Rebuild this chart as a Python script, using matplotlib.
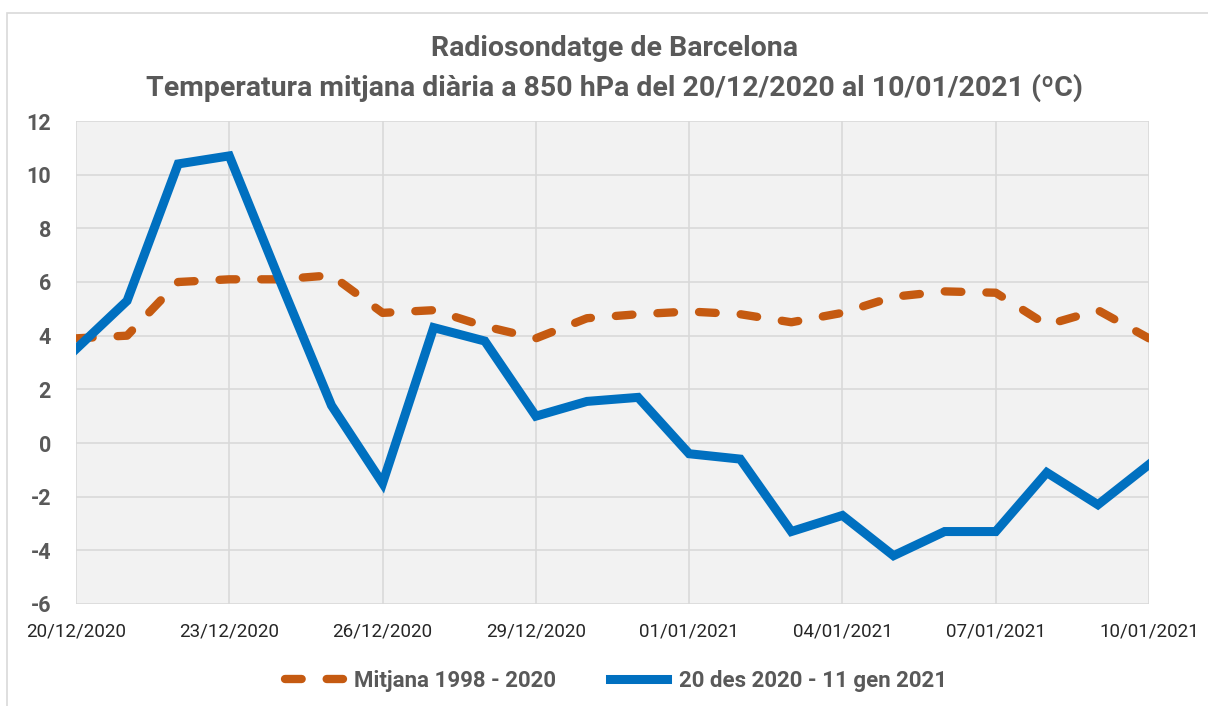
import numpy as np
import matplotlib.pyplot as plt
from matplotlib.patches import Rectangle

# dies del 20/12/2020 al 10/01/2021
dates = ["20/12/2020", "21/12/2020", "22/12/2020", "23/12/2020", "24/12/2020",
         "25/12/2020", "26/12/2020", "27/12/2020", "28/12/2020", "29/12/2020",
         "30/12/2020", "31/12/2020", "01/01/2021", "02/01/2021", "03/01/2021",
         "04/01/2021", "05/01/2021", "06/01/2021", "07/01/2021", "08/01/2021",
         "09/01/2021", "10/01/2021"]

mitjana = [3.9, 4.0, 6.0, 6.1, 6.1, 6.25, 4.85, 4.95, 4.35, 3.9, 4.65,
           4.8, 4.9, 4.8, 4.5, 4.85, 5.45, 5.65, 5.6, 4.4, 4.95, 3.9]
actual = [3.5, 5.3, 10.4, 10.7, 6.0, 1.4, -1.5, 4.3, 3.8, 1.0, 1.55,
          1.7, -0.4, -0.6, -3.3, -2.7, -4.2, -3.3, -3.3, -1.1, -2.3, -0.8]

plt.rcParams['font.family'] = ['Roboto', 'DejaVu Sans']
plt.rcParams['axes.unicode_minus'] = False
grey = "#595959"

fig = plt.figure(figsize=(12.08, 7.06), dpi=100)
fig.patches.append(Rectangle((7 / 1208, -0.05), 1.1, 1 - 13 / 706 + 0.05,
                             transform=fig.transFigure, fill=False,
                             edgecolor="#D9D9D9", linewidth=1.2))

ax = fig.add_axes([76 / 1208, 102 / 706, 1073 / 1208, 483 / 706])
ax.set_facecolor("#F2F2F2")

x = np.arange(len(dates))
ax.plot(x, mitjana, color="#C55A11", linewidth=6, dashes=(2, 3),
        dash_capstyle="round", solid_capstyle="round",
        label="Mitjana 1998 - 2020", zorder=3)
ax.plot(x, actual, color="#0070C0", linewidth=6.5,
        solid_joinstyle="miter", label="20 des 2020 - 11 gen 2021", zorder=4)

ax.set_xlim(0, len(dates) - 1)
ax.set_ylim(-6, 12)
ax.set_yticks(np.arange(-6, 13, 2))
ax.set_xticks(x[::3])
ax.set_xticklabels(dates[::3])

ax.grid(True, color="#D9D9D9", linewidth=1.2)
ax.set_axisbelow(True)
for s in ax.spines.values():
    s.set_visible(False)
ax.tick_params(length=0)
ax.tick_params(axis="y", labelsize=15.5, labelcolor=grey, pad=18)
ax.tick_params(axis="x", labelsize=13.5, labelcolor="#262626", pad=13)
for lab in ax.get_yticklabels():
    lab.set_fontweight("bold")

fig.text(0.509, 1 - 48 / 706, "Radiosondatge de Barcelona", ha="center",
         va="center", fontsize=20.5, fontweight="bold", color=grey)
fig.text(0.509, 1 - 88 / 706,
         "Temperatura mitjana diària a 850 hPa del 20/12/2020 al 10/01/2021 (ºC)",
         ha="center", va="center", fontsize=20.5, fontweight="bold", color=grey)

leg = fig.legend(loc="center", bbox_to_anchor=(0.51, 1 - 681 / 706), ncol=2,
                 frameon=False, fontsize=16, handlelength=2.6,
                 columnspacing=2.4, handletextpad=0.5)
for t in leg.get_texts():
    t.set_color(grey)
    t.set_fontweight("bold")

plt.savefig("out.png", dpi=100)
